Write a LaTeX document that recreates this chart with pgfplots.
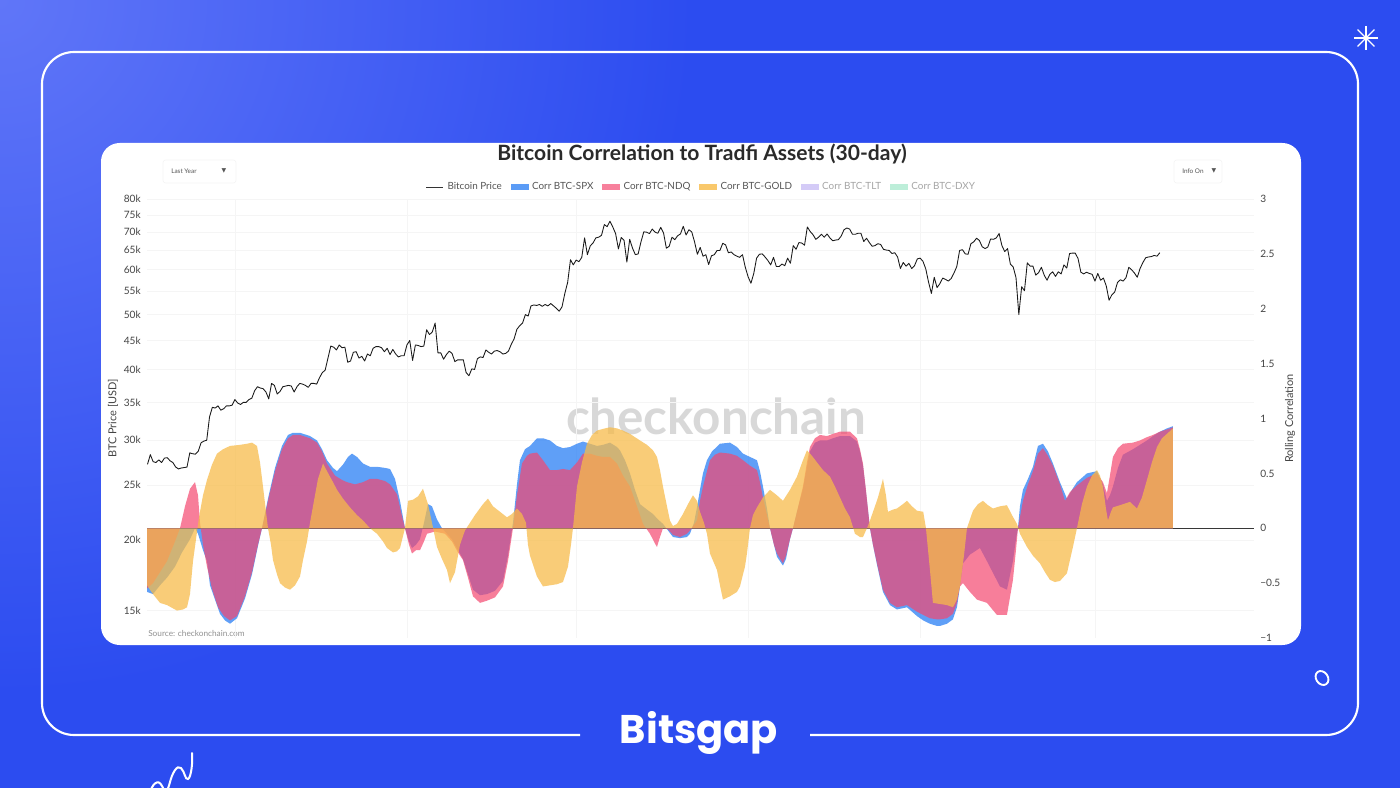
\documentclass[border=0pt]{standalone}
\usepackage{pgfplots}
\pgfplotsset{compat=1.18}
\usepackage{pgfplotstable}
\usepackage{fontspec}
\setmainfont{Lato}
\newfontfamily\popfont{Poppins}
\newfontfamily\symfont{DejaVu Sans}

\definecolor{bgmain}{RGB}{44,76,240}
\definecolor{bglight}{RGB}{96,118,248}
\definecolor{spx}{RGB}{28,119,245}
\definecolor{ndq}{RGB}{244,72,112}
\definecolor{gold}{RGB}{247,187,73}
\definecolor{spxleg}{RGB}{91,156,246}
\definecolor{ndqleg}{RGB}{247,128,156}
\definecolor{goldleg}{RGB}{249,200,107}
\definecolor{tltleg}{RGB}{212,203,247}
\definecolor{dxyleg}{RGB}{189,238,217}
\definecolor{tickc}{RGB}{68,68,68}
\definecolor{legc}{RGB}{85,85,85}
\definecolor{disabledc}{RGB}{165,165,165}
\definecolor{gridc}{RGB}{245,245,245}
\definecolor{titlec}{RGB}{42,42,42}
\definecolor{zeroc}{RGB}{55,55,55}
\definecolor{wmark}{RGB}{216,216,216}
\definecolor{boxc}{RGB}{244,244,244}
\definecolor{srcc}{RGB}{145,145,145}
\definecolor{pricec}{RGB}{25,25,25}

\newcommand\fs[1]{\fontsize{#1}{#1}\selectfont}

% Bitcoin price, day 0 = 1 Oct 2023
\pgfplotstableread{
day price
0 27200
1 28300
2 27500
3 27400
4 27700
5 27400
6 27900
7 27950
8 27600
9 27400
10 26900
11 26700
12 26800
13 26850
14 26900
15 28500
16 28400
17 28350
18 28700
19 29700
20 29900
21 30000
22 33000
23 34300
24 34200
25 34500
26 33900
27 34100
28 34500
29 34500
30 34600
31 35400
32 34900
33 34700
34 35000
35 35000
36 35400
37 35600
38 36700
39 37300
40 37100
41 37000
42 36500
43 35500
44 37800
45 37500
46 36200
47 36600
48 37300
49 37400
50 37500
51 37400
52 36500
53 37300
54 37800
55 37700
56 37500
57 37200
58 37800
59 37800
60 37700
61 38700
62 39500
63 39900
64 41900
65 44000
66 43800
67 43300
68 44200
69 43700
70 43800
71 41200
72 41400
73 42900
74 43000
75 41900
76 42200
77 41400
78 42600
79 42300
80 43600
81 43900
82 43900
83 43700
84 43000
85 43600
86 42500
87 43400
88 42600
89 42100
90 42300
91 42300
92 44200
93 45000
94 41500
95 44200
96 44100
97 43900
98 44000
99 47000
100 46100
101 46600
102 48300
103 42800
104 42800
105 41700
106 42500
107 43100
108 42700
109 41300
110 41600
111 41600
112 41600
113 39500
114 39000
115 40100
116 40000
117 41800
118 42100
119 42000
120 43300
121 42900
122 42600
123 43100
124 43200
125 43000
126 42600
127 42700
128 43100
129 44300
130 45300
131 47100
132 47800
133 48300
134 50000
135 49700
136 51800
137 52000
138 51900
139 52100
140 51700
141 52100
142 51800
143 52300
144 51800
145 51300
146 50700
147 51600
148 54500
149 57000
150 62500
151 61200
152 62400
153 62000
154 63100
155 68300
156 63800
157 66100
158 66900
159 68300
160 68500
161 69000
162 72100
163 71500
164 73100
165 71400
166 69500
167 65300
168 68400
169 67600
170 61900
171 67900
172 65500
173 63800
174 64000
175 67200
176 70000
177 69900
178 69500
179 70800
180 69900
181 69600
182 71300
183 69700
184 65500
185 66000
186 68500
187 67800
188 68900
189 69400
190 71600
191 69100
192 70600
193 70000
194 67200
195 63900
196 65700
197 63400
198 63800
199 61300
200 63500
201 63800
202 64900
203 64900
204 66800
205 66400
206 64300
207 64500
208 63800
209 63400
210 63100
211 63800
212 60600
213 58300
214 56800
215 59100
216 62900
217 63900
218 64000
219 63200
220 62300
221 61200
222 63100
223 60800
224 60800
225 61400
226 61000
227 62900
228 61600
229 66200
230 65200
231 67000
232 66900
233 66300
234 71400
235 70100
236 69200
237 67900
238 68500
239 69300
240 68500
241 69400
242 68300
243 67500
244 67700
245 67800
246 68800
247 70600
248 71100
249 70800
250 69300
251 69300
252 69600
253 69600
254 67300
255 68200
256 67000
257 66000
258 66200
259 66700
260 66500
261 65200
262 65000
263 64900
264 64100
265 64300
266 63200
267 60300
268 61800
269 60900
270 61600
271 60300
272 61000
273 62700
274 62900
275 62100
276 60200
277 57000
278 54500
279 58200
280 55800
281 56700
282 58000
283 57700
284 57300
285 57900
286 59200
287 60800
288 64900
289 65100
290 64000
291 63900
292 66700
293 67200
294 68200
295 67600
296 65900
297 65400
298 65800
299 68000
300 67900
301 68300
302 69500
303 66200
304 64600
305 65400
306 61400
307 60700
308 58100
309 50000
310 56000
311 55100
312 61700
313 60900
314 60900
315 58700
316 59300
317 60600
318 58700
319 57500
320 58900
321 59500
322 58400
323 59500
324 59000
325 61200
326 60400
327 64100
328 64200
329 64200
330 62800
331 59400
332 59000
333 59400
334 59100
335 58900
336 57300
337 59100
338 57500
339 58000
340 56200
341 53000
342 54200
343 54800
344 57000
345 57600
346 57300
347 58100
348 60600
349 60000
350 59200
351 58200
352 60300
353 61800
354 63000
355 63200
356 63300
357 63600
358 63400
359 64300
}\pricetable

% rolling correlations, xpx = horizontal position
\pgfplotstableread{
xpx c
147 -0.58
153 -0.60
160 -0.52
167 -0.45
175 -0.35
182 -0.22
190 -0.10
195 0.00
198 -0.05
203 -0.20
207 -0.30
210 -0.52
215 -0.65
220 -0.78
225 -0.84
230 -0.87
237 -0.82
245 -0.64
252 -0.42
258 -0.16
262 0.00
268 0.27
275 0.55
282 0.75
288 0.85
293 0.87
300 0.87
310 0.84
317 0.80
322 0.72
327 0.62
333 0.55
337 0.52
343 0.58
348 0.65
352 0.68
357 0.65
363 0.59
370 0.56
377 0.56
385 0.55
390 0.54
395 0.45
400 0.25
405 0.00
409 -0.12
412 -0.18
416 -0.15
420 -0.10
424 0.05
428 0.22
432 0.20
437 0.08
442 0.00
447 -0.05
452 -0.10
458 -0.20
463 -0.28
468 -0.42
473 -0.56
480 -0.61
487 -0.60
495 -0.57
503 -0.48
508 -0.25
513 0.05
517 0.40
520 0.62
525 0.72
530 0.75
537 0.82
543 0.82
550 0.80
557 0.75
563 0.73
570 0.74
577 0.77
583 0.79
590 0.77
597 0.75
603 0.76
610 0.78
617 0.74
620 0.71
625 0.62
630 0.50
635 0.35
640 0.22
647 0.17
653 0.13
658 0.08
663 0.04
668 -0.02
673 -0.08
680 -0.09
687 -0.08
690 -0.05
694 0.05
697 0.19
700 0.35
703 0.50
707 0.62
712 0.70
720 0.77
730 0.78
737 0.74
743 0.68
750 0.65
757 0.62
760 0.52
763 0.38
767 0.18
770 0.00
774 -0.15
777 -0.26
780 -0.30
783 -0.34
786 -0.28
790 -0.10
793 0.00
797 0.15
803 0.36
807 0.56
810 0.70
815 0.78
820 0.80
827 0.80
833 0.82
840 0.84
850 0.84
857 0.79
860 0.70
863 0.57
866 0.33
870 0.00
873 -0.15
877 -0.33
883 -0.58
890 -0.70
897 -0.74
907 -0.72
917 -0.80
923 -0.84
930 -0.87
937 -0.89
940 -0.89
947 -0.87
953 -0.83
957 -0.72
960 -0.53
963 -0.32
970 -0.24
980 -0.18
987 -0.30
1000 -0.53
1007 -0.56
1013 -0.30
1016 -0.10
1018 0.00
1020 0.20
1023 0.35
1028 0.45
1033 0.56
1038 0.75
1043 0.77
1048 0.70
1053 0.59
1060 0.42
1067 0.27
1072 0.35
1077 0.42
1087 0.50
1097 0.52
1103 0.40
1107 0.25
1110 0.30
1113 0.38
1118 0.55
1123 0.67
1133 0.72
1140 0.76
1147 0.80
1153 0.84
1160 0.88
1167 0.91
1173 0.93
}\spxtable

\pgfplotstableread{
xpx c
147 -0.55
153 -0.50
160 -0.40
167 -0.30
175 -0.12
180 0.00
185 0.20
190 0.36
195 0.42
198 0.30
200 0.05
203 -0.15
207 -0.35
212 -0.55
218 -0.72
224 -0.80
230 -0.84
237 -0.80
245 -0.62
252 -0.40
258 -0.15
262 0.00
268 0.25
275 0.52
282 0.72
288 0.82
293 0.85
300 0.85
310 0.82
317 0.78
322 0.70
327 0.59
335 0.48
342 0.44
347 0.42
355 0.40
363 0.42
370 0.45
377 0.45
385 0.43
390 0.40
397 0.31
401 0.15
405 0.00
409 -0.15
412 -0.23
416 -0.20
420 -0.20
424 -0.12
427 -0.05
435 -0.03
445 -0.05
452 -0.12
458 -0.22
463 -0.29
468 -0.45
473 -0.62
480 -0.68
487 -0.66
495 -0.63
503 -0.53
508 -0.30
513 0.00
517 0.30
522 0.59
527 0.66
530 0.68
537 0.69
543 0.62
550 0.53
557 0.53
563 0.54
570 0.53
577 0.60
583 0.68
590 0.68
597 0.66
603 0.65
610 0.65
617 0.59
623 0.48
630 0.38
637 0.20
643 0.04
650 -0.05
655 -0.14
657 -0.17
660 -0.08
663 0.00
668 -0.01
673 -0.06
680 -0.08
687 -0.05
690 -0.02
697 0.07
700 0.25
703 0.38
707 0.52
710 0.62
715 0.67
720 0.69
730 0.68
737 0.66
743 0.62
750 0.57
757 0.53
760 0.42
763 0.28
767 0.12
770 0.00
774 -0.15
777 -0.23
783 -0.32
786 -0.25
790 -0.10
793 0.00
797 0.15
803 0.38
807 0.60
810 0.74
815 0.82
820 0.85
827 0.84
833 0.86
840 0.88
850 0.88
857 0.82
860 0.72
863 0.59
866 0.35
870 0.00
873 -0.15
877 -0.32
883 -0.56
890 -0.68
897 -0.72
907 -0.70
917 -0.76
923 -0.79
930 -0.82
937 -0.83
940 -0.83
947 -0.82
953 -0.78
957 -0.68
960 -0.53
963 -0.50
970 -0.58
977 -0.65
987 -0.68
997 -0.79
1007 -0.79
1013 -0.47
1016 -0.20
1018 0.00
1023 0.25
1028 0.40
1033 0.52
1038 0.68
1043 0.73
1048 0.66
1053 0.57
1060 0.40
1065 0.25
1070 0.33
1077 0.39
1087 0.46
1097 0.50
1103 0.42
1107 0.32
1110 0.48
1113 0.65
1118 0.73
1123 0.77
1133 0.78
1140 0.80
1147 0.83
1153 0.85
1160 0.88
1167 0.90
1173 0.92
}\ndqtable

\pgfplotstableread{
xpx c
147 -0.52
153 -0.60
160 -0.68
167 -0.70
173 -0.73
177 -0.75
183 -0.74
187 -0.72
190 -0.60
193 -0.30
196 -0.10
199 0.10
203 0.30
207 0.44
212 0.58
217 0.68
223 0.72
230 0.75
240 0.76
247 0.77
252 0.78
257 0.75
260 0.60
263 0.38
266 0.15
268 0.00
271 -0.15
273 -0.29
277 -0.42
280 -0.50
285 -0.54
290 -0.56
295 -0.52
300 -0.44
303 -0.29
307 -0.12
310 0.05
314 0.25
318 0.45
323 0.59
327 0.52
333 0.42
337 0.35
343 0.27
350 0.19
357 0.12
363 0.07
370 0.00
377 -0.05
383 -0.12
387 -0.18
393 -0.22
397 -0.21
400 -0.18
405 0.00
408 0.25
413 0.26
418 0.29
423 0.36
428 0.22
432 0.05
437 -0.17
442 -0.28
447 -0.38
450 -0.50
455 -0.40
460 -0.15
465 -0.02
470 0.05
475 0.12
483 0.22
488 0.27
493 0.20
500 0.15
507 0.10
512 0.13
517 0.18
522 0.13
526 0.05
528 -0.15
530 -0.25
537 -0.44
543 -0.53
550 -0.52
557 -0.51
563 -0.49
568 -0.35
571 -0.15
573 0.00
577 0.38
582 0.60
587 0.77
592 0.85
597 0.89
605 0.91
610 0.92
617 0.91
623 0.89
630 0.86
640 0.80
647 0.76
653 0.71
657 0.65
660 0.53
663 0.38
667 0.20
670 0.07
673 0.02
677 0.04
683 0.13
688 0.22
693 0.30
697 0.25
700 0.15
704 0.05
707 -0.05
710 -0.23
717 -0.38
720 -0.52
723 -0.65
730 -0.62
737 -0.58
740 -0.53
745 -0.35
747 -0.23
750 0.00
753 0.12
757 0.19
763 0.28
770 0.35
777 0.30
783 0.25
790 0.35
797 0.47
803 0.62
807 0.71
812 0.66
817 0.60
823 0.53
830 0.47
835 0.38
840 0.28
845 0.18
850 0.10
855 -0.05
860 -0.08
863 -0.08
867 0.00
870 0.07
875 0.20
878 0.28
881 0.38
883 0.45
886 0.30
888 0.15
893 0.17
897 0.18
903 0.22
907 0.25
912 0.20
917 0.16
923 0.15
926 0.00
930 -0.38
933 -0.68
940 -0.69
947 -0.70
953 -0.72
957 -0.65
960 -0.53
964 -0.25
967 0.00
973 0.16
978 0.22
983 0.25
988 0.21
993 0.18
1000 0.20
1007 0.21
1012 0.12
1017 0.04
1020 -0.05
1027 -0.17
1033 -0.25
1040 -0.32
1045 -0.40
1050 -0.47
1055 -0.49
1060 -0.48
1067 -0.41
1073 -0.17
1077 0.00
1082 0.22
1087 0.38
1092 0.48
1097 0.53
1100 0.48
1103 0.38
1106 0.18
1108 0.07
1111 0.15
1113 0.19
1120 0.21
1130 0.24
1137 0.18
1142 0.28
1147 0.44
1152 0.60
1157 0.74
1162 0.82
1167 0.86
1173 0.91
}\goldtable

\begin{document}
\begin{tikzpicture}
\useasboundingbox (0pt,0pt) rectangle (1050pt,-591pt);
\begin{scope}[x=0.75pt,y=-0.75pt]
\begin{scope}
\clip (0,0) rectangle (1400,788);
\fill[bgmain] (0,0) rectangle (1400,788);
\shade[inner color=bglight, outer color=bgmain] (0,0) circle (520pt);
% scribble, bottom left
\draw[white, line width=1.5pt, line cap=round] (149,795) .. controls (152,784) and (158,778) .. (162,786)
  .. controls (165,792) and (167,794) .. (170,782)
  .. controls (172,774) and (177,764) .. (181,768)
  .. controls (185,772) and (185,780) .. (188,779)
  .. controls (191,778) and (193,762) .. (192,753);
\end{scope}
% outline frame with gap for the logo
\draw[white, line width=1.6pt, rounded corners=24pt]
  (580,735) -- (42,735) -- (42,52) -- (1358,52) -- (1358,735) -- (810,735);
\node[text=white, font=\popfont\bfseries\fs{30pt}] at (699,733) {Bitsgap};
% decorations
\foreach \a in {0,45,90,135} {
  \draw[white, line width=1pt] (1366,38) ++(\a:9pt) -- ++(\a+180:18pt);
}
\draw[white, line width=1.4pt, rotate around={35:(1322,678)}] (1322,678) ellipse (4.4pt and 5.6pt);
% card
\fill[white, rounded corners=14pt] (101,143) rectangle (1301,645);
% title and controls
\node[text=titlec, font=\bfseries\fs{15.8pt}] at (702,154) {Bitcoin Correlation to Tradfi Assets (30-day)};
\draw[draw=boxc, fill=white, rounded corners=2pt] (163,160) rectangle (236,183);
\node[anchor=west, text=legc, font=\fs{4.8pt}, inner sep=0pt] at (171,171) {Last Year};
\node[text=legc, font=\symfont\fs{4.5pt}, inner sep=0pt] at (224,171) {▼};
\draw[draw=boxc, fill=white, rounded corners=2pt] (1174,160) rectangle (1222,183);
\node[anchor=west, text=legc, font=\fs{4.8pt}, inner sep=0pt] at (1182,171) {Info On};
\node[text=legc, font=\symfont\fs{4.5pt}, inner sep=0pt] at (1214,171) {▼};
% watermark
\node[text=wmark, font=\bfseries\fs{37pt}] at (716,416) {checkonchain};
\node[anchor=west, text=srcc, font=\fs{6.2pt}, inner sep=0pt] at (148,633) {Source: checkonchain.com};
\end{scope}

% price axis (left, log)
\begin{axis}[
  at={(110.25pt,-478.5pt)}, anchor=south west,
  scale only axis, width=830.25pt, height=329.25pt,
  xmin=-0.18, xmax=392.4,
  ymode=log, ymin=13430, ymax=80000,
  xtick={31,92,152,213,274,336}, xticklabels={},
  ytick={15000,20000,25000,30000,35000,40000,45000,50000,55000,60000,65000,70000,75000,80000},
  yticklabels={15k,20k,25k,30k,35k,40k,45k,50k,55k,60k,65k,70k,75k,80k},
  xmajorgrids, ymajorgrids,
  major grid style={draw=gridc, line width=0.5pt},
  axis line style={draw=none},
  major tick length=0pt, minor tick length=0pt,
  yticklabel style={font=\fs{7.6pt}, text=tickc, anchor=east, inner sep=0pt, xshift=-4.5pt},
  ylabel={BTC Price [USD]},
  every axis y label/.style={at={(axis description cs:-0.0307,0.5)}, rotate=90, anchor=center, font=\fs{8.2pt}, text=tickc},
]
\addplot[draw=pricec, line width=0.65pt, line join=round]
  table[x=day, y=price] {\pricetable};
\end{axis}

% correlation axis (right)
\begin{axis}[
  at={(110.25pt,-478.5pt)}, anchor=south west,
  scale only axis, width=830.25pt, height=329.25pt,
  xmin=-0.18, xmax=392.4,
  ymin=-1, ymax=3,
  xtick=\empty,
  ytick={-1,-0.5,0,0.5,1,1.5,2,2.5,3},
  yticklabels={−1,−0.5,0,0.5,1,1.5,2,2.5,3},
  yticklabel pos=right,
  axis line style={draw=none},
  major tick length=0pt,
  yticklabel style={font=\fs{7.6pt}, text=tickc, anchor=west, inner sep=0pt, xshift=4.5pt},
  ylabel={Rolling Correlation},
  every axis y label/.style={at={(axis description cs:1.0325,0.5)}, rotate=90, anchor=center, font=\fs{8.2pt}, text=tickc},
  legend columns=6,
  legend style={at={(0.501,1.027)}, anchor=center, draw=none, fill=none,
    font=\fs{7.4pt}, text=legc, inner sep=0pt,
    /tikz/every even column/.append style={column sep=4.5pt},
    /tikz/every odd column/.append style={column sep=1pt}},
  legend cell align=left,
]
\addplot[draw=zeroc, line width=0.8pt, forget plot] coordinates {(-0.18,0) (392.4,0)};
\addplot[draw=none, fill=spx, fill opacity=0.7, forget plot]
  table[x expr={(\thisrow{xpx}-147.5)/2.82}, y=c] {\spxtable} \closedcycle;
\addplot[draw=none, fill=ndq, fill opacity=0.7, forget plot]
  table[x expr={(\thisrow{xpx}-147.5)/2.82}, y=c] {\ndqtable} \closedcycle;
\addplot[draw=none, fill=gold, fill opacity=0.74, forget plot]
  table[x expr={(\thisrow{xpx}-147.5)/2.82}, y=c] {\goldtable} \closedcycle;

\addlegendimage{legend image code/.code={\draw[black!80, line width=0.7pt] (0pt,0pt) -- (12.75pt,0pt);}}
\addlegendentry{Bitcoin Price}
\addlegendimage{legend image code/.code={\fill[spxleg] (0pt,-1.9pt) rectangle (12.75pt,1.9pt);}}
\addlegendentry{Corr BTC-SPX}
\addlegendimage{legend image code/.code={\fill[ndqleg] (0pt,-1.9pt) rectangle (12.75pt,1.9pt);}}
\addlegendentry{Corr BTC-NDQ}
\addlegendimage{legend image code/.code={\fill[goldleg] (0pt,-1.9pt) rectangle (12.75pt,1.9pt);}}
\addlegendentry{Corr BTC-GOLD}
\addlegendimage{legend image code/.code={\fill[tltleg] (0pt,-1.9pt) rectangle (12.75pt,1.9pt);}}
\addlegendentry{\textcolor{disabledc}{Corr BTC-TLT}}
\addlegendimage{legend image code/.code={\fill[dxyleg] (0pt,-1.9pt) rectangle (12.75pt,1.9pt);}}
\addlegendentry{\textcolor{disabledc}{Corr BTC-DXY}}
\end{axis}
\end{tikzpicture}
\end{document}
